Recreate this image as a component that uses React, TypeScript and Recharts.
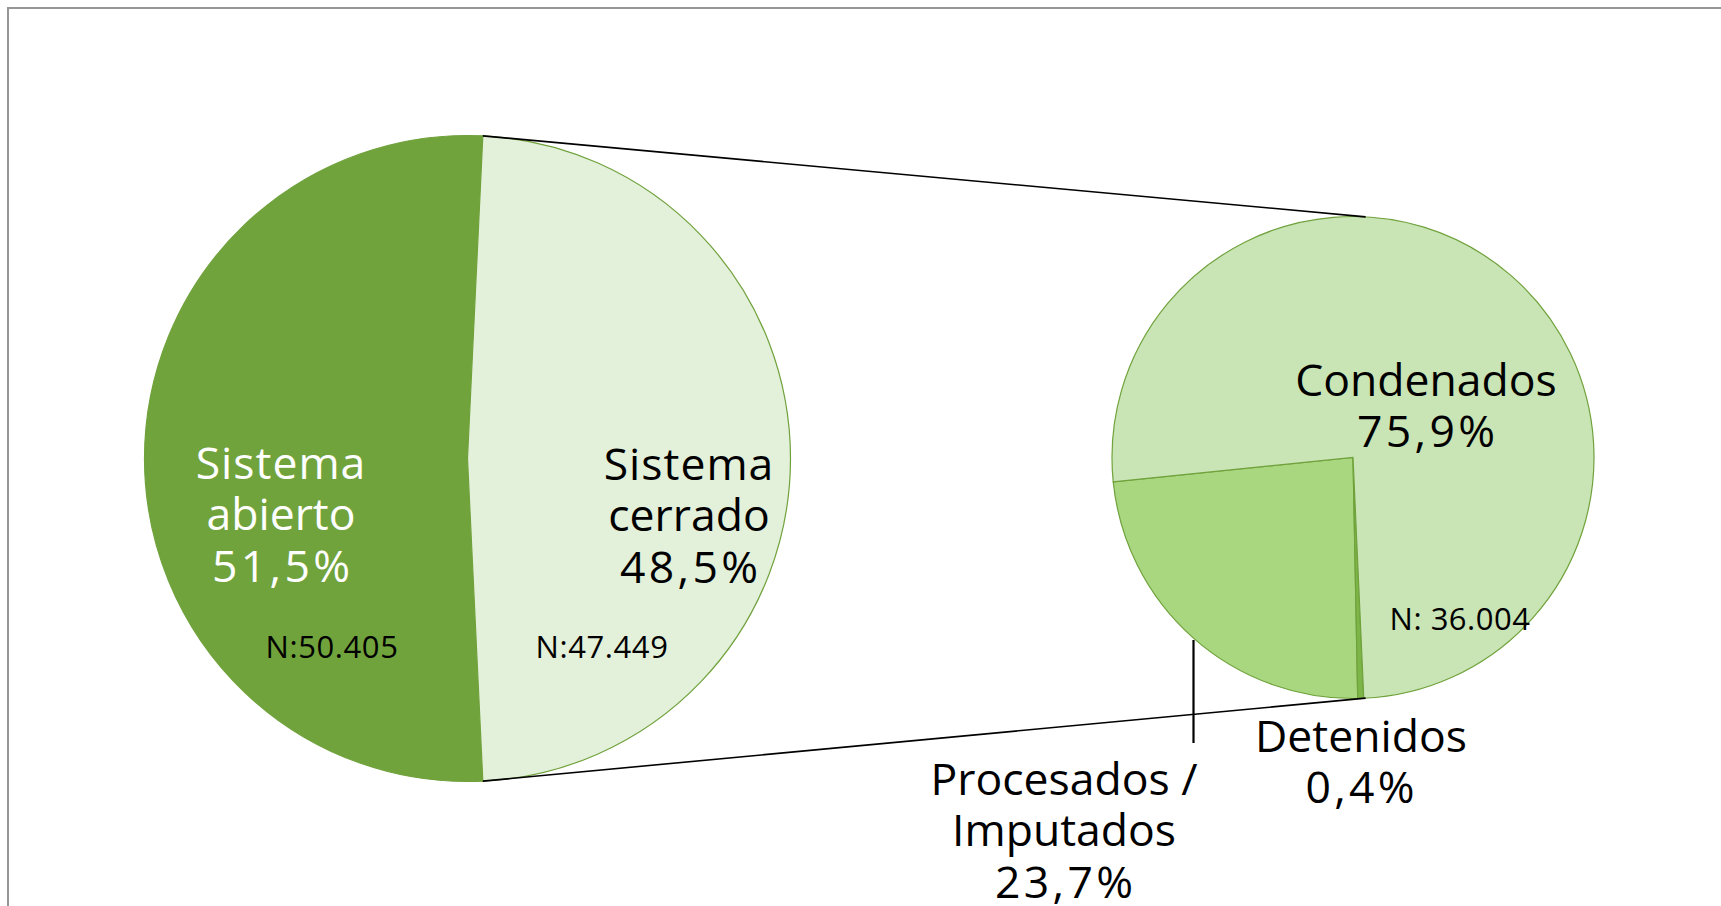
import React from "react";
import { Cell, Pie, PieChart } from "recharts";

// primary pie
const mainNames = ["Sistema abierto", "Sistema cerrado"];
const mainCounts = [50405, 47449];
const mainColors = ["#71A33D", "#E3F0DA"];
const mainTextColors = ["#ffffff", "#000000"];

// secondary pie (breakdown of "Sistema cerrado"), drawn counter-clockwise in this order
const subNames = ["Procesados / Imputados", "Detenidos", "Condenados"];
const subPercents = [23.7, 0.4, 75.9];
const subColors = ["#A8D780", "#7DB548", "#C9E4B5"];
const subTotal = 36004;

const MAIN = { cx: 467.5, cy: 458.5, r: 323 };
const SUB = { cx: 1353, cy: 457.5, r: 241, start: 185.8, join: 3 };
const STROKE = "#70A23C";
const FONT = "'Open Sans', sans-serif";

const fmtPct = (v: number) => v.toFixed(1).replace(".", ",") + "%";
const fmtN = (n: number) => String(n).replace(/\B(?=(\d{3})+(?!\d))/g, ".");

const mainTotal = mainCounts.reduce((a, b) => a + b, 0);
const mainData = mainNames.map((name, i) => ({ name, value: mainCounts[i] }));
const subData = subNames.map((name, i) => ({ name, value: subPercents[i] }));

// the closed-system slice is centred on the right, facing the secondary pie
const halfClosed = ((mainCounts[1] / mainTotal) * 360) / 2;

const rad = (a: number) => (a * Math.PI) / 180;
const pt = (cx: number, cy: number, r: number, a: number) => [
  cx + r * Math.cos(rad(a)),
  cy - r * Math.sin(rad(a)),
];

const big = 44.5;
const small = 31;
const numLs = 3.3; // digits in the original are set wider

const App = () => {
  const [t1x, t1y] = pt(MAIN.cx, MAIN.cy, MAIN.r, halfClosed);
  const [b1x, b1y] = pt(MAIN.cx, MAIN.cy, MAIN.r, -halfClosed);
  const [t2x, t2y] = pt(SUB.cx, SUB.cy, SUB.r, 90 - SUB.join);
  const [b2x, b2y] = pt(SUB.cx, SUB.cy, SUB.r, 270 + SUB.join);

  const pctSpan = (x: number, dy: number, v: number) => (
    <tspan x={x + numLs / 2} dy={dy} letterSpacing={numLs}>
      {fmtPct(v)}
    </tspan>
  );

  return (
    <div
      style={{
        position: "fixed",
        left: 0,
        top: 0,
        width: 1721,
        height: 906,
        overflow: "hidden",
        background: "#ffffff",
      }}
    >
      <div
        style={{
          position: "absolute",
          left: 7,
          top: 7,
          width: 1760,
          height: 960,
          border: "2px solid #969696",
        }}
      />
      <div style={{ position: "absolute", left: 0, top: 0 }}>
        <PieChart width={1721} height={906} margin={{ top: 0, right: 0, bottom: 0, left: 0 }}>
          <Pie
            data={mainData}
            dataKey="value"
            cx={MAIN.cx}
            cy={MAIN.cy}
            outerRadius={MAIN.r}
            startAngle={halfClosed}
            endAngle={halfClosed + 360}
            stroke={STROKE}
            strokeWidth={1.2}
            isAnimationActive={false}
          >
            {mainData.map((d, i) => (
              <Cell key={d.name} fill={mainColors[i]} />
            ))}
          </Pie>
          <Pie
            data={subData}
            dataKey="value"
            cx={SUB.cx}
            cy={SUB.cy}
            outerRadius={SUB.r}
            startAngle={SUB.start}
            endAngle={SUB.start + 360}
            stroke={STROKE}
            strokeWidth={1.2}
            isAnimationActive={false}
          >
            {subData.map((d, i) => (
              <Cell key={d.name} fill={subColors[i]} />
            ))}
          </Pie>
        </PieChart>
      </div>
      <svg
        width={1721}
        height={906}
        style={{ position: "absolute", left: 0, top: 0, pointerEvents: "none" }}
        fontFamily={FONT}
      >
        {/* series lines */}
        <line x1={t1x} y1={t1y} x2={t2x} y2={t2y} stroke="#000" strokeWidth={1.6} />
        <line x1={b1x} y1={b1y} x2={b2x} y2={b2y} stroke="#000" strokeWidth={1.6} />
        {/* leader for Procesados */}
        <line x1={1193.5} y1={640} x2={1193.5} y2={743} stroke="#000" strokeWidth={2.2} />

        {/* primary labels */}
        <text x={281} y={479} textAnchor="middle" fontSize={big} fill={mainTextColors[0]}>
          <tspan x={281} letterSpacing={1}>{mainNames[0].split(" ")[0]}</tspan>
          <tspan x={281} dy={51}>{mainNames[0].split(" ")[1]}</tspan>
          {pctSpan(281, 52, (mainCounts[0] / mainTotal) * 100)}
        </text>
        <text x={689} y={480} textAnchor="middle" fontSize={big} fill={mainTextColors[1]}>
          <tspan x={689} letterSpacing={1}>{mainNames[1].split(" ")[0]}</tspan>
          <tspan x={689} dy={51}>{mainNames[1].split(" ")[1]}</tspan>
          {pctSpan(689, 52, (mainCounts[1] / mainTotal) * 100)}
        </text>
        <text x={332} y={658} textAnchor="middle" fontSize={small} fill="#000" letterSpacing={0.6}>
          {"N:" + fmtN(mainCounts[0])}
        </text>
        <text x={602} y={658} textAnchor="middle" fontSize={small} fill="#000" letterSpacing={0.6}>
          {"N:" + fmtN(mainCounts[1])}
        </text>

        {/* secondary labels */}
        <text x={1426} y={396} textAnchor="middle" fontSize={big} fill="#000">
          <tspan x={1426}>{subNames[2]}</tspan>
          {pctSpan(1426, 51, subPercents[2])}
        </text>
        <text x={1460} y={630} textAnchor="middle" fontSize={small} fill="#000" letterSpacing={0.5}>
          {"N: " + fmtN(subTotal)}
        </text>
        <text x={1361} y={752} textAnchor="middle" fontSize={big} fill="#000">
          <tspan x={1361}>{subNames[1]}</tspan>
          {pctSpan(1360, 51, subPercents[1])}
        </text>
        <text x={1064} y={795} textAnchor="middle" fontSize={big} fill="#000">
          <tspan x={1064}>{subNames[0].split(" / ")[0] + " /"}</tspan>
          <tspan x={1064} dy={51}>{subNames[0].split(" / ")[1]}</tspan>
          {pctSpan(1064, 52, subPercents[0])}
        </text>
      </svg>
    </div>
  );
};

export default App;
